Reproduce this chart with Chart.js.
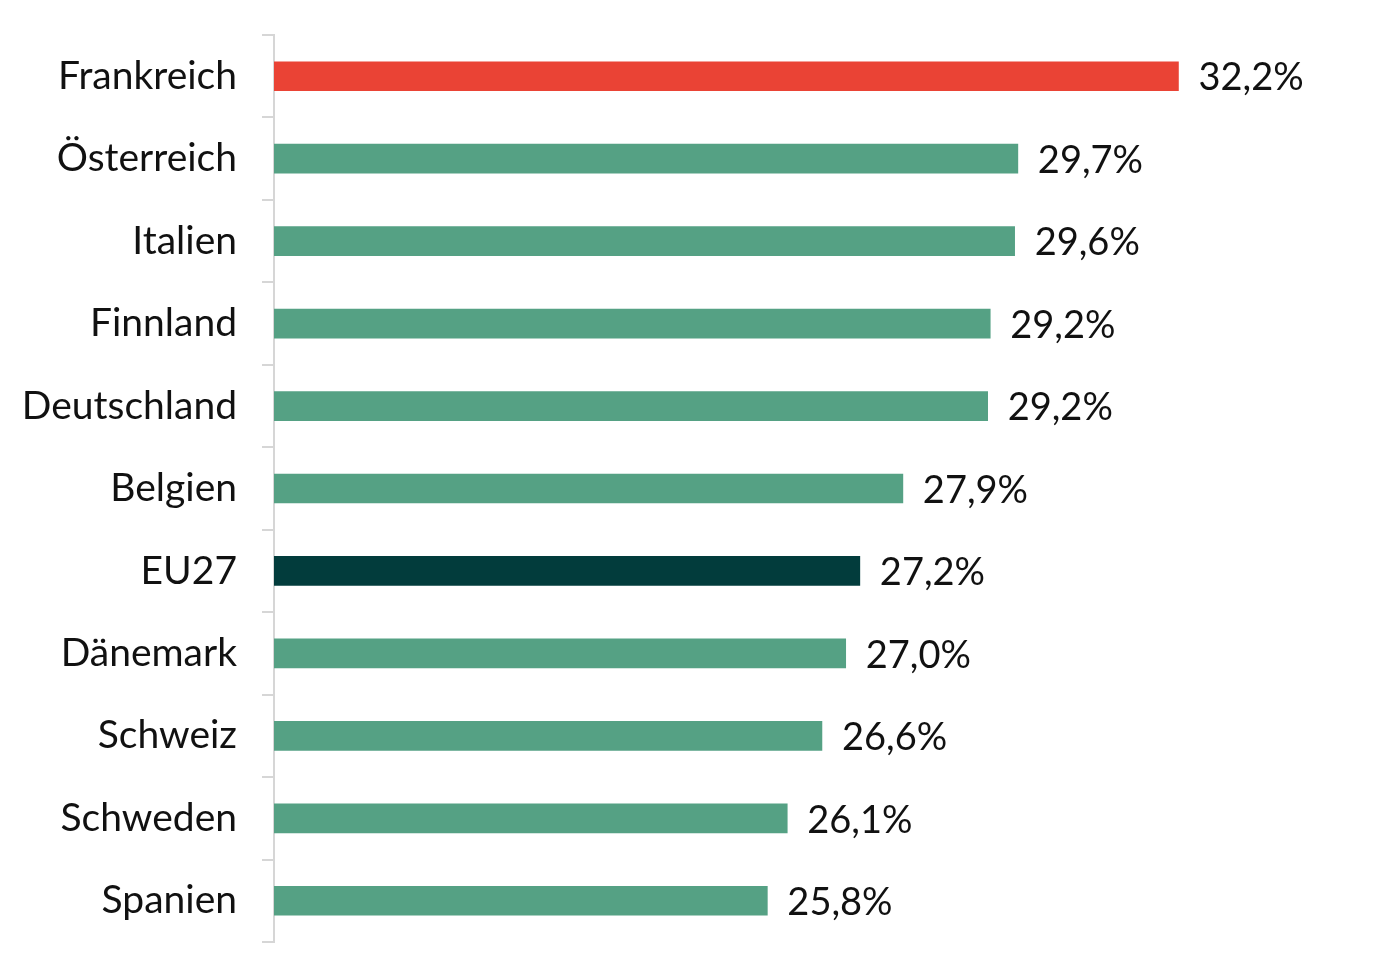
<!DOCTYPE html>
<html lang="de">
<head>
  <meta charset="UTF-8">
  <title>Quote</title>
  <script src="https://cdn.jsdelivr.net/npm/chart.js@4.4.1/dist/chart.umd.min.js"></script>
  <style>
    html, body { margin: 0; padding: 0; background: #fff; }
    #wrap { width: 1392px; height: 978px; }
  </style>
</head>
<body>
  <div id="wrap"><canvas id="myChart"></canvas></div>
  <script>
    const countries = ['Frankreich', 'Österreich', 'Italien', 'Finnland', 'Deutschland', 'Belgien', 'EU27', 'Dänemark', 'Schweiz', 'Schweden', 'Spanien']
    const values = [32.17, 29.67, 29.62, 29.24, 29.20, 27.88, 27.21, 26.99, 26.62, 26.08, 25.77]
    const highlight = { 'Frankreich': '#ea4335', 'EU27': '#023c3c' }
    const baseColor = '#55a184'

    const fmt = v => v.toFixed(1).replace('.', ',') + '%'

    // Werte rechts neben den Balken
    const valueLabels = {
      id: 'valueLabels',
      afterDatasetsDraw(chart) {
        const ctx = chart.ctx
        const meta = chart.getDatasetMeta(0)
        ctx.save()
        ctx.font = '38px Lato'
        ctx.fillStyle = '#111'
        ctx.textAlign = 'left'
        ctx.textBaseline = 'middle'
        meta.data.forEach((bar, i) => {
          ctx.fillText(fmt(values[i]), bar.x + 20, bar.y + 2)
        })
        ctx.restore()
      }
    }

    const ctx = document.getElementById('myChart').getContext('2d')
    new Chart(ctx, {
      type: 'bar',
      data: {
        labels: countries,
        datasets: [{
          data: values,
          backgroundColor: countries.map(c => highlight[c] || baseColor),
          barThickness: 29,
          borderWidth: 0
        }]
      },
      plugins: [valueLabels],
      options: {
        indexAxis: 'y',
        responsive: true,
        maintainAspectRatio: false,
        animation: false,
        layout: { padding: { top: 35, bottom: 36, left: 0, right: 96 } },
        plugins: {
          legend: { display: false },
          tooltip: { enabled: false }
        },
        scales: {
          x: {
            display: false,
            min: 18.09,
            max: 34
          },
          y: {
            afterFit(scale) {
              scale.width = 274
              scale.paddingTop = 0
              scale.paddingBottom = 0
            },
            border: { display: true, color: '#d6d6d6', width: 2 },
            grid: {
              drawOnChartArea: false,
              drawTicks: true,
              tickLength: 12,
              color: '#d6d6d6',
              lineWidth: 2
            },
            ticks: {
              padding: 25,
              color: '#111',
              font: { family: 'Lato', size: 39 }
            }
          }
        }
      }
    })
  </script>
</body>
</html>
